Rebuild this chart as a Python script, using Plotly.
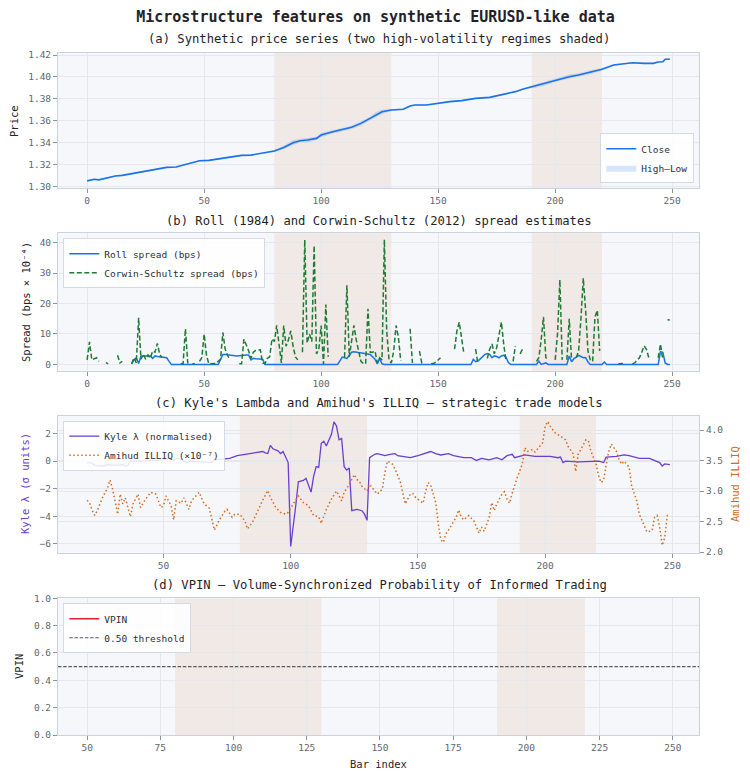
import plotly.graph_objects as go

FONT = "DejaVu Sans Mono"
W, H = 750, 779

# ---------------- data ----------------
close_bars = [0, 3, 5, 8, 12, 15, 20, 24, 27, 31, 34, 38, 41, 45, 48, 52, 55, 59, 63, 66,
              70, 73, 77, 80, 84, 88, 91, 94, 98, 100, 105, 109, 113, 117, 121, 123, 126, 130,
              135, 138, 140, 145, 150, 155, 160, 166, 172, 177, 183, 186, 190, 195, 200, 206,
              210, 216, 220, 225, 229, 233, 238, 242, 244, 246, 247, 249]
close_vals = [1.3053, 1.3067, 1.3062, 1.3076, 1.3097, 1.3103, 1.3122, 1.3135, 1.3146, 1.3167,
              1.3176, 1.3180, 1.3197, 1.3215, 1.3237, 1.3240, 1.3249, 1.3262, 1.3273, 1.3285,
              1.3288, 1.3298, 1.3309, 1.3325, 1.3358, 1.3400, 1.3419, 1.3425, 1.3440, 1.3471,
              1.3501, 1.3520, 1.3541, 1.3577, 1.3623, 1.3653, 1.3683, 1.3699, 1.3705, 1.3735,
              1.3744, 1.3744, 1.3760, 1.3775, 1.3784, 1.3805, 1.3814, 1.3835, 1.3866, 1.3887,
              1.3911, 1.3936, 1.3972, 1.4002, 1.4018, 1.4048, 1.4070, 1.4109, 1.4118, 1.4130,
              1.4124, 1.4124, 1.4136, 1.4139, 1.4161, 1.4161]
# High-Low range read at the same bars
hl_range = [0.0010, 0.0010, 0.0010, 0.0010, 0.0010, 0.0010, 0.0010, 0.0010, 0.0010, 0.0010,
            0.0010, 0.0010, 0.0010, 0.0010, 0.0010, 0.0010, 0.0010, 0.0010, 0.0010, 0.0010,
            0.0010, 0.0010, 0.0010, 0.0020, 0.0030, 0.0050, 0.0030, 0.0045, 0.0030, 0.0040,
            0.0030, 0.0035, 0.0030, 0.0040, 0.0030, 0.0045, 0.0040, 0.0020, 0.0010, 0.0012,
            0.0010, 0.0010, 0.0010, 0.0010, 0.0010, 0.0010, 0.0010, 0.0010, 0.0010, 0.0010,
            0.0025, 0.0035, 0.0030, 0.0040, 0.0030, 0.0035, 0.0020, 0.0012, 0.0010, 0.0010,
            0.0010, 0.0010, 0.0010, 0.0010, 0.0012, 0.0012]

# Corwin-Schultz spread, one value per bar 0..249 (None = undefined)
cs_spread = [
    1.5, 7.4, 1.5, 1.8, 2.2, 1.0, None, None, 0.6, 0.2,          # 0-9
    None, None, None, 3.0, 0.5, 1.0, None, None, None, 0.2,      # 10-19
    2.2, 0.5, 15.3, 1.7, 3.3, 1.7, 3.1, 2.0, 4.4, 4.0,           # 20-29
    6.9, 3.3, 2.2, None, None, None, None, None, None, None,     # 30-39
    0.2, 0.3, 11.7, 0.3, None, 0.2, 0.2, None, 1.0, 2.2,         # 40-49
    10.0, 3.0, 0.2, 0.2, 0.2, 0.3, 1.0, 1.7, 10.5, 5.0,          # 50-59
    3.0, 1.5, None, None, None, 0.2, 0.2, 8.3, 6.5, 4.5,         # 60-69
    2.0, 4.0, 4.6, 4.6, 4.8, 0.5, 0.3, 2.0, 2.5, 8.4,            # 70-79
    7.5, 12.8, 6.0, 0.5, 12.8, 6.0, 8.0, 11.0, 6.0, 2.5,         # 80-89
    1.5, None, 4.0, 40.9, 7.0, 10.0, 7.5, 39.0, 3.5, 5.0,        # 90-99
    12.8, 0.2, 19.7, 2.5, None, None, None, None, None, None,    # 100-109
    2.4, 26.0, 2.5, 8.0, 12.8, 8.0, 4.6, 1.0, 0.3, 0.2,          # 110-119
    18.3, 4.0, 4.0, 4.4, 0.5, 2.2, 1.5, 41.0, 11.0, 1.5,         # 120-129
    0.5, 4.4, 12.8, 9.0, 1.2, None, None, None, 11.7, 0.5,       # 130-139
    None, None, 4.4, 0.5, 0.2, None, None, 0.2, 0.3, 0.8,        # 140-149
    1.5, 2.2, None, None, None, None, None, 5.0, 11.0, 13.9,     # 150-159
    9.0, 3.5, None, None, None, None, 5.0, 0.2, None, None,      # 160-169
    None, 2.0, 5.0, 6.7, 3.5, 5.5, 10.0, 13.9, 6.7, 1.0,         # 170-179
    None, None, 1.0, 6.1, None, 3.5, 5.0, None, None, None,      # 180-189
    None, None, 1.0, 2.2, 8.0, 15.6, 2.2, 1.5, None, None,       # 190-199
    1.5, 10.0, 27.8, 1.5, None, 1.5, 15.0, 1.5, None, 2.2,       # 200-209
    4.4, 15.0, 28.3, 17.8, 4.4, 1.5, 1.0, 15.6, 17.8, 4.4,       # 210-219
    None, None, None, None, None, None, None, 0.2, 0.2, 0.3,     # 220-229
    None, None, None, 0.2, 0.5, 1.5, 2.2, 4.0, 6.1, 5.0,         # 230-239
    2.2, None, None, None, 2.2, 6.7, 1.5, None, 14.7, 14.6,      # 240-249
]
cs_bars = list(range(len(cs_spread)))

roll_bars = [19, 20, 21, 22, 23, 27, 28, 29, 30, 33, 34, 35, 36, 56, 57, 58, 59, 61, 64, 68,
             69, 70, 71, 72, 74, 75, 76, 107, 108, 109, 110, 111, 113, 114, 116, 121, 123, 124,
             125, 126, 127, 164, 165, 166, 167, 168, 169, 170, 171, 172, 173, 174, 175, 176,
             177, 178, 179, 180, 181, 192, 193, 194, 196, 197, 205, 206, 207, 208, 209, 210,
             211, 212, 213, 214, 215, 220, 221, 222, 244, 245, 246, 247, 248, 249]
roll_vals = [0.2, 1.5, 2.2, 0.3, 2.8, 2.8, 2.0, 2.8, 2.6, 2.4, 2.2, 1.0, 0.0, 0.0, 1.5, 3.3,
             3.3, 3.1, 2.8, 3.1, 3.1, 1.5, 2.0, 1.9, 1.9, 1.7, 0.0, 0.0, 1.2, 2.4, 2.2, 2.0,
             4.0, 4.2, 3.9, 3.3, 1.7, 0.2, 2.0, 0.2, 0.0, 0.0, 1.7, 0.9, 1.1, 1.8, 2.4, 3.3,
             3.6, 3.3, 2.2, 2.8, 2.6, 2.2, 2.8, 3.0, 2.4, 0.6, 0.0, 0.0, 1.1, 0.0, 0.5, 0.0,
             0.0, 2.8, 0.9, 1.9, 2.4, 3.0, 2.6, 2.2, 2.3, 0.8, 0.0, 0.0, 0.8, 0.0, 0.0, 4.2,
             4.0, 0.5, 0.0, 0.0]

kyle_bars = [20, 22, 23, 26, 28, 31, 34, 35, 36, 37, 41, 47, 50, 52, 54, 56, 57, 59, 61, 66,
             69, 70, 76, 79, 82, 85, 89, 90, 91, 92, 93, 95, 96, 97, 98, 99, 100, 101, 102, 103,
             105, 106, 108, 109, 110, 111, 112, 113, 114, 116, 117, 118, 119, 120, 121, 122,
             123, 124, 126, 128, 129, 130, 131, 133, 134, 136, 137, 139, 141, 142, 147, 150,
             153, 155, 157, 159, 162, 164, 168, 171, 173, 175, 178, 181, 183, 185, 187, 188,
             191, 192, 196, 202, 205, 206, 207, 208, 213, 218, 221, 223, 224, 228, 231, 233,
             237, 241, 244, 245, 246, 247, 249]
kyle_vals = [-0.1, -0.15, -0.3, -0.35, -0.25, -0.3, -0.25, -0.35, -0.3, 0.0, 0.0, 0.05, 0.1,
             0.2, 0.1, 0.2, 0.15, -0.1, 0.0, -0.05, -0.1, 0.1, 0.2, 0.4, 0.5, 0.6, 0.7, 0.6,
             0.55, 1.15, 0.9, 0.75, 0.55, 0.7, 0.25, -0.1, -6.2, -4.8, -3.2, -1.5, -1.4, -1.25,
             -2.25, -1.1, -0.4, -0.45, 1.3, 1.45, 1.1, 1.95, 2.85, 2.55, 1.55, 1.65, -0.4,
             -0.65, -0.5, -3.6, -3.5, -3.6, -3.85, -4.3, 0.25, 0.5, 0.55, 0.45, 0.4, 0.5,
             0.55, 0.4, 0.25, 0.4, 0.55, 0.7, 0.55, 0.45, 0.55, 0.4, 0.25, 0.25, 0.05, 0.2,
             0.1, 0.25, 0.1, 0.4, 0.5, 0.25, 0.4, 0.45, 0.35, 0.35, 0.25, 0.3, -0.1, 0.0,
             -0.05, -0.05, 0.0, -0.1, 0.3, 0.35, 0.45, 0.4, 0.2, 0.2, 0.0, -0.1, -0.35, -0.2,
             -0.25]

amihud_bars = [20, 21, 22, 23, 24, 26, 28, 29, 30, 31, 32, 33, 34, 35, 37, 38, 40, 41, 43, 45,
               47, 49, 50, 51, 53, 54, 55, 57, 58, 60, 61, 64, 66, 68, 70, 72, 74, 75, 77, 78,
               80, 82, 83, 85, 87, 89, 91, 92, 94, 96, 98, 99, 101, 103, 105, 107, 109, 111,
               112, 114, 116, 118, 120, 121, 123, 125, 126, 127, 128, 130, 131, 133, 134, 136,
               137, 138, 140, 141, 143, 144, 145, 147, 148, 149, 151, 152, 153, 154, 155, 157,
               158, 159, 160, 161, 162, 163, 165, 166, 167, 168, 170, 172, 174, 175, 176, 178,
               179, 180, 181, 183, 184, 185, 186, 187, 188, 189, 191, 192, 193, 195, 196, 198,
               199, 200, 201, 202, 204, 206, 208, 209, 211, 212, 213, 214, 216, 217, 218, 220,
               221, 222, 223, 224, 225, 226, 228, 229, 230, 231, 233, 234, 236, 237, 239, 240,
               242, 243, 244, 245, 246, 247, 248, 249]
amihud_vals = [2.85, 2.80, 2.68, 2.60, 2.68, 2.89, 3.05, 3.18, 3.03, 2.80, 2.62, 2.95, 2.79,
               2.89, 2.58, 2.79, 2.95, 2.73, 2.87, 2.98, 2.95, 2.73, 2.76, 2.92, 2.76, 2.53,
               2.84, 2.80, 2.89, 2.70, 2.84, 2.98, 2.79, 2.72, 2.36, 2.53, 2.66, 2.70, 2.57,
               2.62, 2.62, 2.51, 2.38, 2.49, 2.68, 2.85, 3.01, 2.90, 2.74, 2.65, 2.62, 2.65,
               2.79, 2.92, 2.81, 2.76, 2.60, 2.58, 2.47, 2.70, 2.87, 3.00, 2.84, 2.98, 3.11,
               3.27, 3.19, 3.16, 3.08, 3.00, 3.11, 3.00, 2.95, 3.03, 3.30, 3.49, 3.44, 3.36,
               3.16, 2.98, 2.79, 2.95, 2.96, 2.90, 2.83, 2.80, 2.99, 3.14, 3.10, 2.81, 2.46,
               2.20, 2.16, 2.30, 2.36, 2.43, 2.57, 2.69, 2.57, 2.53, 2.60, 2.51, 2.31, 2.41,
               2.34, 2.57, 2.81, 2.68, 2.79, 2.95, 2.99, 2.87, 2.80, 2.96, 3.11, 3.22, 3.44,
               3.71, 3.65, 3.68, 3.64, 3.73, 3.79, 4.06, 4.14, 4.06, 3.95, 3.90, 3.84, 3.73,
               3.61, 3.32, 3.61, 3.68, 3.84, 3.82, 3.65, 3.44, 3.25, 3.14, 3.18, 3.44, 3.65,
               3.77, 3.65, 3.52, 3.44, 3.49, 3.39, 3.08, 2.84, 2.62, 2.41, 2.33, 2.35, 2.57,
               2.60, 2.41, 2.11, 2.24, 2.60, 2.62]

vpin_bars = list(range(50, 250))
vpin_vals = [None] * len(vpin_bars)   # VPIN undefined on this sample
vpin_threshold = 0.50

regimes = [(80, 130), (190, 220)]

# ---------------- styling ----------------
BG = "#f5f7fa"
GRID = "#e4e8ee"
FRAME = "#c9d2dd"
SHADE = "#f0e9e6"
TICKC = "#5f6672"
BLUE = "#1a73e8"
GREEN = "#1e7b34"
PURPLE = "#6a3fcf"
ORANGE = "#d2691e"
RED = "#e0202e"

def py(p):
    return 1 - p / H

XDOM = [58 / W, 699 / W]
YDOM = {
    1: [py(188.0), py(52.7)],
    2: [py(370.7), py(233.3)],
    3: [py(552.7), py(416.0)],
    4: [py(735.0), py(598.3)],
}

def axis_style(**kw):
    d = dict(showline=True, linecolor=FRAME, linewidth=1, mirror=True,
             ticks="outside", ticklen=4, tickwidth=1, tickcolor="#8b93a0",
             tickfont=dict(family=FONT, size=9.5, color=TICKC),
             showgrid=True, gridcolor=GRID, gridwidth=1, zeroline=False,
             automargin=False)
    d.update(kw)
    return d

fig = go.Figure()

# (a) price
high_vals = [c + r / 2 for c, r in zip(close_vals, hl_range)]
low_vals = [c - r / 2 for c, r in zip(close_vals, hl_range)]
fig.add_trace(go.Scatter(x=close_bars, y=close_vals, mode="lines", line=dict(color=BLUE, width=1.6),
                         name="Close", legend="legend", xaxis="x", yaxis="y"))
fig.add_trace(go.Scatter(x=close_bars, y=low_vals, mode="lines", line=dict(width=0, color="rgba(26,115,232,0)"),
                         showlegend=False, hoverinfo="skip", xaxis="x", yaxis="y"))
fig.add_trace(go.Scatter(x=close_bars, y=high_vals, mode="lines", fill="tonexty",
                         fillcolor="rgba(26,115,232,0.18)", line=dict(width=0, color="rgba(26,115,232,0.18)"),
                         name="High–Low", legend="legend", xaxis="x", yaxis="y"))

# (b) spreads
fig.add_trace(go.Scatter(x=roll_bars, y=roll_vals, mode="lines", line=dict(color=BLUE, width=1.5),
                         name="Roll spread (bps)", legend="legend2", xaxis="x2", yaxis="y2"))
fig.add_trace(go.Scatter(x=cs_bars, y=cs_spread, mode="lines", connectgaps=False,
                         line=dict(color=GREEN, width=1.5, dash="5px,2.5px"),
                         name="Corwin-Schultz spread (bps)", legend="legend2", xaxis="x2", yaxis="y2"))

# (c) Kyle / Amihud
fig.add_trace(go.Scatter(x=kyle_bars, y=kyle_vals, mode="lines", line=dict(color=PURPLE, width=1.3),
                         name="Kyle λ (normalised)", legend="legend3", xaxis="x3", yaxis="y3"))
fig.add_trace(go.Scatter(x=amihud_bars, y=amihud_vals, mode="lines",
                         line=dict(color=ORANGE, width=1.5, dash="1.5px,2.5px"),
                         name="Amihud ILLIQ (×10⁻⁷)", legend="legend3", xaxis="x3", yaxis="y5"))

# (d) VPIN
fig.add_trace(go.Scatter(x=vpin_bars, y=vpin_vals, mode="lines", line=dict(color=RED, width=1.5),
                         name="VPIN", legend="legend4", showlegend=True, xaxis="x4", yaxis="y4"))

shapes = []
for i, xa in enumerate(["x", "x2", "x3", "x4"]):
    ya = ["y", "y2", "y3", "y4"][i]
    for a, b in regimes:
        shapes.append(dict(type="rect", xref=xa, yref=f"{ya} domain", x0=a, x1=b, y0=0, y1=1,
                           fillcolor=SHADE, line=dict(width=0), layer="below"))
shapes.append(dict(type="line", xref="x4 domain", yref="y4", x0=0, x1=1,
                   y0=vpin_threshold, y1=vpin_threshold,
                   line=dict(color="#555b66", width=1.1, dash="3.5px,1.7px"),
                   showlegend=True, name="0.50 threshold", legend="legend4"))

legend_common = dict(bgcolor="rgba(255,255,255,0.85)", bordercolor="#d3dae3", borderwidth=1,
                     font=dict(family=FONT, size=9.5, color="#2b2f36"), itemwidth=30,
                     tracegroupgap=0, orientation="v", traceorder="normal")

annotations = [
    dict(text="(a) Synthetic price series (two high-volatility regimes shaded)", x=379 / W, y=py(39)),
    dict(text="(b) Roll (1984) and Corwin-Schultz (2012) spread estimates", x=379 / W, y=py(221)),
    dict(text="(c) Kyle's Lambda and Amihud's ILLIQ — strategic trade models", x=379 / W, y=py(403)),
    dict(text="(d) VPIN — Volume-Synchronized Probability of Informed Trading", x=379 / W, y=py(585)),
]
for a in annotations:
    a.update(xref="paper", yref="paper", showarrow=False, xanchor="center", yanchor="middle",
             font=dict(family=FONT, size=12.2, color="#1f2329"))

axis_titles = [
    dict(text="Price", x=14 / W, y=py(121), textangle=-90, color="#1f2329"),
    dict(text="Spread (bps × 10⁻⁴)", x=26 / W, y=py(302), textangle=-90, color="#1f2329"),
    dict(text="Kyle λ (σ units)", x=25 / W, y=py(484), textangle=-90, color=PURPLE),
    dict(text="VPIN", x=19 / W, y=py(667), textangle=-90, color="#1f2329"),
    dict(text="Amihud ILLIQ", x=735 / W, y=py(484), textangle=-90, color=ORANGE),
    dict(text="Bar index", x=378.5 / W, y=py(764), textangle=0, color="#1f2329"),
]
for t in axis_titles:
    col = t.pop("color")
    t.update(xref="paper", yref="paper", showarrow=False, xanchor="center", yanchor="middle",
             font=dict(family=FONT, size=10.5, color=col))
    annotations.append(t)

fig.update_layout(
    width=W, height=H,
    margin=dict(l=0, r=0, t=0, b=0),
    paper_bgcolor="white", plot_bgcolor=BG,
    font=dict(family=FONT),
    title=dict(text="<b>Microstructure features on synthetic EURUSD-like data</b>",
               x=375.5 / W, xanchor="center", y=py(17), yanchor="middle",
               font=dict(family=FONT, size=15, color="#1f2329")),
    xaxis=axis_style(domain=XDOM, anchor="y", range=[-12.45, 261.45], tickvals=[0, 50, 100, 150, 200, 250]),
    yaxis=axis_style(domain=YDOM[1], anchor="x", range=[1.2988, 1.4221],
                     tickvals=[1.30, 1.32, 1.34, 1.36, 1.38, 1.40, 1.42], tickformat=".2f"),
    xaxis2=axis_style(domain=XDOM, anchor="y2", range=[-12.45, 261.45], tickvals=[0, 50, 100, 150, 200, 250]),
    yaxis2=axis_style(domain=YDOM[2], anchor="x2", range=[-2.05, 43.05], tickvals=[0, 10, 20, 30, 40]),
    xaxis3=axis_style(domain=XDOM, anchor="y3", range=[8.55, 260.45], tickvals=[50, 100, 150, 200, 250]),
    yaxis3=axis_style(domain=YDOM[3], anchor="x3", range=[-6.65, 3.28], tickvals=[-6, -4, -2, 0, 2]),
    yaxis5=axis_style(overlaying="y3", anchor="x3", side="right", range=[1.99, 4.23],
                      tickvals=[2.0, 2.5, 3.0, 3.5, 4.0], tickformat=".1f", mirror=False),
    xaxis4=axis_style(domain=XDOM, anchor="y4", range=[40.05, 258.95],
                      tickvals=[50, 75, 100, 125, 150, 175, 200, 225, 250]),
    yaxis4=axis_style(domain=YDOM[4], anchor="x4", range=[0, 1],
                      tickvals=[0.0, 0.2, 0.4, 0.6, 0.8, 1.0], tickformat=".1f"),
    legend=dict(legend_common, x=694.3 / W, y=py(183.3), xanchor="right", yanchor="bottom"),
    legend2=dict(legend_common, x=63.3 / W, y=py(238.3), xanchor="left", yanchor="top"),
    legend3=dict(legend_common, x=63.3 / W, y=py(420.7), xanchor="left", yanchor="top"),
    legend4=dict(legend_common, x=63.3 / W, y=py(603.3), xanchor="left", yanchor="top"),
    shapes=shapes,
    annotations=annotations,
    showlegend=True,
)

fig.write_html("out.html")
